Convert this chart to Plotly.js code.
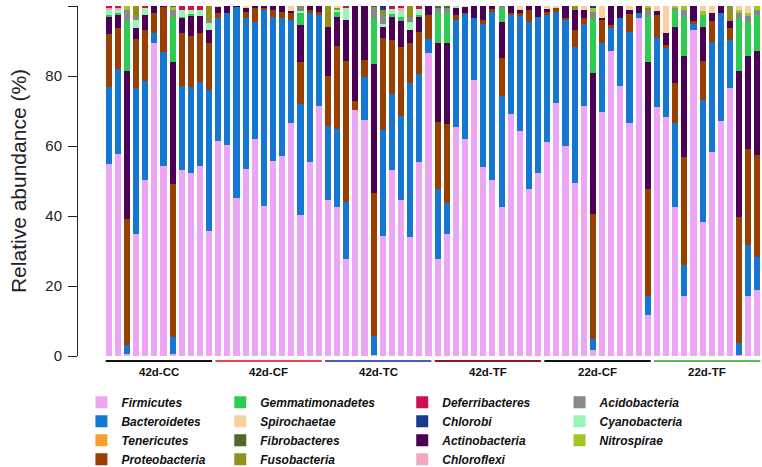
<!DOCTYPE html>
<html>
<head>
<meta charset="utf-8">
<script src="https://cdn.plot.ly/plotly-3.0.1.min.js"></script>
<style>html,body{margin:0;padding:0;background:#fff;}#chart{width:762px;height:467px;}</style>
</head>
<body>
<div id="chart"></div>
<script>
// ---- groups ----
const groupNames = ['42d-CC','42d-CF','42d-TC','42d-TF','22d-CF','22d-TF'];
const groupSizes = [12,12,12,12,12,12];
const groupLineColors = ['#111111','#e0474c','#4a5bbd','#8b1a2b','#111111','#5cb85c'];

// ---- phylum abundances (%) per sample, 12 samples per group ----
const firmicutes = [55,57.7,0.5,34.8,50.3,89.3,54.4,0.5,53.1,52.2,54.3,35.7,
  61.4,60.3,45.2,53.3,61.9,42.9,55.8,57.2,66.7,40.3,55.5,71.4,
  44.6,42.5,27.7,70.3,67.4,0.3,34.3,53.1,44.6,33.9,55.5,86.5,
  27.7,34.9,65.3,61.9,79,54.1,50.3,42.7,69.1,64.3,47.7,52.4,
  61.2,72.4,60,49.5,71.4,1.7,69.6,87.2,77.1,66.7,96.5,11.7,
  71.2,68.4,42.7,17.1,93.1,38.2,58.2,67.1,76.5,0.3,17.1,18.9];
const bacteroidetes = [22,24.3,2.6,41.7,28.3,2.9,32.6,5,24.1,24.6,24.1,40.3,
  35.1,37.8,54.4,43.2,33.6,56,41.2,39.3,29.3,31.6,42.4,26,
  21.2,22.3,16.2,0,12.4,5.4,30.3,21.7,24,44,25.1,4,
  20,8.7,30.7,35.8,17.5,40.9,48.1,31.6,28.3,32.8,47.8,44.4,
  36.2,26,36,38.7,23.6,3.3,19.7,6.4,19.4,25.8,1.4,5.4,
  19.6,19.7,23.8,8.9,1.9,34.9,31.6,30.8,13.8,3.3,14.6,9.5];
const proteobacteria = [15,11.6,36,14.1,14.5,5.9,12.6,43.6,15.2,14.7,13.8,13.3,
  1.6,0,0,1.9,3.8,0.5,2,1.9,2,12,1,0.8,
  14.2,23.9,40.5,2.7,4.8,41,26.3,15.5,19.6,11.6,11.9,6.9,
  19.3,22.7,1.4,0.3,0,1,0.8,10.9,0.5,0.8,3.4,0,
  1,0.9,0.5,4.9,1.5,35.6,6.7,1,0,5.2,0,30.6,
  6.6,0.8,11.6,31,0.8,11.3,6,0,3.3,36,27.4,29];
const actinobacteria = [5,3.8,42.3,3,4.3,1.9,0.4,35,4.1,5.6,4.9,3.8,
  1.5,1.9,0.4,0.9,0.7,0.6,1,1.6,0.6,10.7,1.1,1.8,
  13.9,8.1,11.6,27,15.4,36.7,3,6.7,7.6,3.6,4.5,2.6,
  22.5,23,1.9,1.6,3.5,4,0.8,10.3,2.1,1,1.1,3.2,
  0.8,0,3.5,5.8,2.5,40.4,0.5,5.4,3.5,1.2,2.1,36.4,
  1.3,3.3,16,28.8,4.2,9.7,2.3,2.1,2.2,41.9,26.7,29.8];
const gemmatimonadetes = [0.5,0.5,14.4,0,0,0,0,12.7,0.5,0.5,0,0,
  0,0,0,0,0,0,0,0,0,3.5,0,0,
  0,1.4,0,0,0,13.1,0,0.6,1.2,0,0.5,0,
  8.4,8.6,0,0,0,0,0,3.8,0,0,0,0,
  0,0,0,0,0,15.3,0,0,0,0,0,12.9,
  0,0,4.8,11.2,0,3.3,0,0,0,14.7,9.7,10.2];
const cyanobacteria = [1.3,1,0,2.4,1.9,0,0,0,1.9,1.4,1.9,2,
  0,0,0,0,0,0,0,0,0,0.5,0,0,
  0,0.8,3.5,0,0,0,1,1.6,1.6,2.3,1.6,0,
  0,0,0.7,0,0,0,0,0,0,0,0,0,
  0,0,0,0,0,0,0,0,0,0,0,0,
  0,0,0,0,0,0,0,0,0,0,0,0];
const acidobacteria = [0,0,3.2,1,0,0,0,2,0,0,0,1,
  0,0,0,0,0,0,0,0,0,1,0,0,
  0,0,0,0,0,3.1,2.5,0,0,1.5,0,0,
  1.4,1.4,0,0,0,0,0,0.7,0,0,0,0,
  0,0,0,0,0,2,0,0,0,0,0,1.8,
  0,0,0.6,1.8,0,0,0,0,0,1.8,1.6,1.6];
const fusobacteria = [0,0,0,3,0,0,0,0,0,0,0,3.9,
  0,0,0,0,0,0,0,0,0,0.4,0,0,
  6.1,0.5,0,0,0,0,1.5,0,0,3.1,0,0,
  0,0,0,0,0,0,0,0,0,0,0,0,
  0,0,0,1.1,0,0,0,0,0,0,0,0.6,
  0,0,0,0,0,0,0,0,4.2,0,0,0];
const nitrospirae = [0,0,1,0,0,0,0,0.8,0,0,0,0,
  0,0,0,0,0,0,0,0,0,0,0,0,
  0,0,0,0,0,0,0,0,0,0,0,0,
  0,0,0,0,0,0,0,0,0,0,0,0,
  0,0,0,0,0,1.2,0,0,0,0,0,0.6,
  0,0,0.5,1.2,0,1.2,0,0,0,1,1,1];
const spirochaetae = [0,0,0,0,0,0,0,0,0,0,0,0,
  0.4,0,0,0.7,0,0,0,0,1.4,0,0,0,
  0,0.5,0,0,0,0,0,0,0,0,0,0,
  0,0,0,0.4,0,0,0,0,0,1.1,0,0,
  0.8,0.7,0,0,1,0,3.5,0,0,1.1,0,0,
  1.3,7.8,0,0,0,1.4,1.9,0,0,1,1.9,0];
const chloroflexi = [0.5,0.4,0,0,0,0,0,0,0,0,0,0,
  0,0,0,0,0,0,0,0,0,0,0,0,
  0,0,0,0,0,0,0,0,0.7,0,0,0,
  0,0,0,0,0,0,0,0,0,0,0,0,
  0,0,0,0,0,0,0,0,0,0,0,0,
  0,0,0,0,0,0,0,0,0,0,0,0];
const deferribacteres = [0.7,0.7,0,0,0.7,0,0,0,1.1,1,1,0,
  0,0,0,0,0,0,0,0,0,0,0,0,
  0,0,0.5,0,0,0,0,0.8,0.7,0,0.9,0,
  0,0,0,0,0,0,0,0,0,0,0,0,
  0,0,0,0,0,0,0,0,0,0,0,0,
  0,0,0,0,0,0,0,0,0,0,0,0];
const chlorobi = [0,0,0,0,0,0,0,0,0,0,0,0,
  0,0,0,0,0,0,0,0,0,0,0,0,
  0,0,0,0,0,0,1.1,0,0,0,0,0,
  0,0,0,0,0,0,0,0,0,0,0,0,
  0,0,0,0,0,0.5,0,0,0,0,0,0,
  0,0,0,0,0,0,0,0,0,0,0,0];
const fibrobacteres = [0,0,0,0,0,0,0,0.4,0,0,0,0,
  0,0,0,0,0,0,0,0,0,0,0,0,
  0,0,0,0,0,0.4,0,0,0,0,0,0,
  0.7,0.7,0,0,0,0,0,0,0,0,0,0,
  0,0,0,0,0,0,0,0,0,0,0,0,
  0,0,0,0,0,0,0,0,0,0,0,0];
const tenericutes = [0,0,0,0,0,0,0,0,0,0,0,0,
  0,0,0,0,0,0,0,0,0,0,0,0,
  0,0,0,0,0,0,0,0,0,0,0,0,
  0,0,0,0,0,0,0,0,0,0,0,0,
  0,0,0,0,0,0,0,0,0,0,0,0,
  0,0,0,0,0,0,0,0,0,0,0,0];

// sample names
const samples = [];
groupNames.forEach((g, gi) => { for (let k = 1; k <= groupSizes[gi]; k++) samples.push(g + '-' + k); });

// stacking order (bottom -> top), colour, legend column, row
const series = [
  {name:'Firmicutes',       y:firmicutes,       color:'#eca6f4', leg:'legend',  rank:1},
  {name:'Bacteroidetes',    y:bacteroidetes,    color:'#1677d2', leg:'legend',  rank:2},
  {name:'Proteobacteria',   y:proteobacteria,   color:'#993f00', leg:'legend',  rank:4},
  {name:'Actinobacteria',   y:actinobacteria,   color:'#4b0055', leg:'legend3', rank:3},
  {name:'Gemmatimonadetes', y:gemmatimonadetes, color:'#2ecc50', leg:'legend2', rank:1},
  {name:'Cyanobacteria',    y:cyanobacteria,    color:'#99f5b4', leg:'legend4', rank:2},
  {name:'Acidobacteria',    y:acidobacteria,    color:'#888888', leg:'legend4', rank:1},
  {name:'Fusobacteria',     y:fusobacteria,     color:'#958f1c', leg:'legend2', rank:4},
  {name:'Nitrospirae',      y:nitrospirae,      color:'#a0c820', leg:'legend4', rank:3},
  {name:'Spirochaetae',     y:spirochaetae,     color:'#fbd0a0', leg:'legend2', rank:2},
  {name:'Chloroflexi',      y:chloroflexi,      color:'#f4a8c0', leg:'legend3', rank:4},
  {name:'Deferribacteres',  y:deferribacteres,  color:'#cc1050', leg:'legend3', rank:1},
  {name:'Chlorobi',         y:chlorobi,         color:'#1a3a8f', leg:'legend3', rank:2},
  {name:'Fibrobacteres',    y:fibrobacteres,    color:'#4a6b2a', leg:'legend2', rank:3},
  {name:'Tenericutes',      y:tenericutes,      color:'#f4a030', leg:'legend',  rank:3}
];

const traces = series.map(s => ({
  type:'bar', x:samples, y:s.y, name:s.name,
  marker:{color:s.color, line:{width:0}},
  legend:s.leg, legendrank:s.rank,
  hoverinfo:'name+y'
}));

// group underline shapes & labels (computed from group sizes)
const shapes = [], annotations = [];
let start = 0;
groupNames.forEach((g, gi) => {
  const end = start + groupSizes[gi] - 1;
  shapes.push({type:'line', xref:'x', yref:'paper', x0:start-0.32, x1:end+0.32,
    y0:-0.0145, y1:-0.0145, line:{color:groupLineColors[gi], width:2}});
  annotations.push({xref:'x', yref:'paper', x:(start+end)/2, y:-0.046, yanchor:'middle', text:'<b>'+g+'</b>',
    showarrow:false, font:{family:'Liberation Sans, Arial, sans-serif', size:11.5, color:'#111'}});
  start = end + 1;
});

const legFont = {family:'Liberation Sans, Arial, sans-serif', size:12, color:'#111', weight:'bold', style:'italic'};
const legBase = {orientation:'v', traceorder:'normal', bgcolor:'rgba(0,0,0,0)', font:legFont,
  yanchor:'top', xanchor:'left', tracegroupgap:0, itemclick:false, itemdoubleclick:false};

const layout = {
  width:762, height:467,
  margin:{l:78, r:0, t:6, b:111, autoexpand:false},
  paper_bgcolor:'#fff', plot_bgcolor:'#fff',
  barmode:'stack', bargap:0.33,
  showlegend:true,
  xaxis:{type:'category', range:[-3.35, 71.5], showticklabels:false, ticks:'', showline:false,
    showgrid:false, zeroline:false, fixedrange:true},
  yaxis:{range:[0,100], tickvals:[0,20,40,60,80,100], ticks:'outside', ticklen:9, tickcolor:'#222',
    tickwidth:1, showline:true, linecolor:'#222', linewidth:1, showgrid:false, zeroline:false,
    ticklabelstandoff:3,
    tickfont:{family:'Liberation Sans, Arial, sans-serif', size:15, color:'#222'},
    title:{text:'Relative abundance (%)', standoff:12,
      font:{family:'Liberation Sans, Arial, sans-serif', size:21, color:'#222'}}},
  legend: Object.assign({}, legBase, {x:0.005, y:-0.091}),
  legend2: Object.assign({}, legBase, {x:0.208, y:-0.091}),
  legend3: Object.assign({}, legBase, {x:0.474, y:-0.091}),
  legend4: Object.assign({}, legBase, {x:0.704, y:-0.091}),
  shapes:shapes, annotations:annotations
};

Plotly.newPlot('chart', traces, layout, {displayModeBar:false, staticPlot:true});
</script>
</body>
</html>
